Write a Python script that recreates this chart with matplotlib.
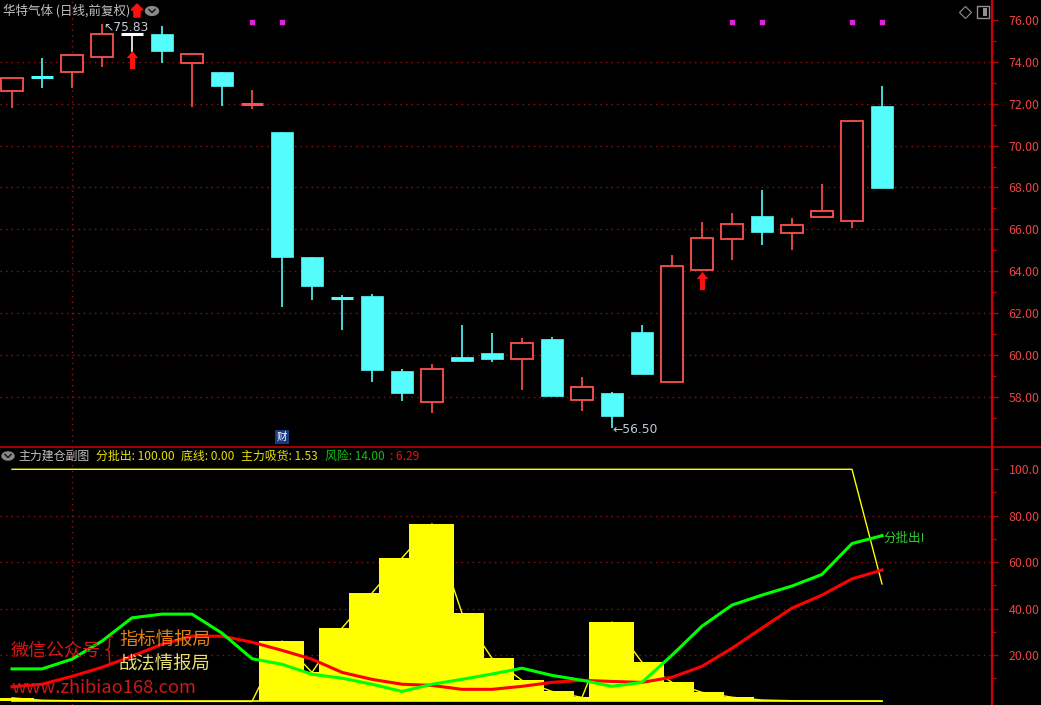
import numpy as np
import matplotlib.pyplot as plt
from matplotlib.patches import Rectangle, Circle, Polygon
from matplotlib.lines import Line2D
from matplotlib.path import Path
from matplotlib.transforms import blended_transform_factory

plt.rcParams['font.family'] = ['Noto Sans CJK SC', 'DejaVu Sans']

W, H = 1041, 705

# K线数据 (开, 高, 低, 收)
opens = [72.62, 73.30, 73.53, 74.22, 75.32, 75.33, 73.96, 73.50, 71.98, 70.65,
         64.68, 62.73, 62.81, 59.23, 57.75, 59.90, 60.09, 59.80, 60.76, 57.85,
         58.18, 61.09, 58.71, 64.06, 65.54, 66.64, 65.82, 66.59, 66.40, 71.89]
highs = [73.23, 74.17, 74.33, 75.83, 75.32, 75.71, 74.36, 73.50, 72.66, 70.65,
         64.68, 62.86, 62.91, 59.33, 59.56, 61.43, 61.05, 60.81, 60.86, 58.94,
         58.23, 61.43, 64.77, 66.35, 66.78, 67.88, 66.54, 68.17, 71.17, 72.85]
lows = [71.80, 72.74, 72.74, 73.77, 74.47, 73.93, 71.86, 71.91, 71.73, 62.29,
        62.62, 61.19, 58.71, 57.80, 57.22, 59.66, 59.66, 58.32, 58.03, 57.32,
        56.50, 59.09, 58.71, 64.06, 64.53, 65.25, 65.01, 66.59, 66.06, 67.97]
closes = [73.23, 73.28, 74.33, 75.33, 75.32, 74.53, 74.36, 72.86, 71.99, 64.68,
          63.29, 62.70, 59.28, 58.18, 59.33, 59.71, 59.80, 60.57, 58.03, 58.47,
          57.08, 59.09, 64.25, 65.59, 66.25, 65.87, 66.21, 66.88, 71.17, 67.97]

# 副图数据
fenpi = [100.0] * 29 + [50.6]
dixian = [0.0] * 30
xihuo = [1.53, 0.5, 0.3, 0, 0, 0, 0, 0, 0, 26.0,
         12.5, 31.6, 46.7, 61.8, 76.5, 38.0, 18.6, 9.1, 4.3, 1.7,
         34.2, 16.9, 8.2, 3.9, 1.8, 0.6, 0.3, 0.1, 0.1, 0.05]
fengxian = [14.0, 14.0, 18.2, 26.0, 36.0, 37.6, 37.6, 29.4, 18.4, 16.0,
            11.7, 10.0, 7.4, 4.3, 7.4, 9.5, 11.8, 14.3, 11.2, 9.1,
            6.5, 8.2, 19.9, 32.4, 41.5, 45.8, 49.7, 54.7, 68.0, 71.4]
zhuli = [6.29, 7.4, 10.8, 14.7, 19.5, 24.6, 28.1, 28.1, 25.5, 22.0,
         18.2, 12.5, 9.5, 7.4, 6.9, 5.2, 5.2, 6.5, 8.2, 9.1,
         8.6, 8.2, 10.4, 15.1, 22.9, 31.6, 40.2, 45.8, 52.8, 56.6]

up_arrows = [4, 23]
arrow_pos = [74.11, 63.51]
pink_marks = [8, 9, 24, 25, 28, 29]

price_ticks = np.arange(58, 77, 2)
sub_ticks = [20, 40, 60, 80, 100]
sub_labels = ['20.00', '40.00', '60.00', '80.00', '100.0']

RED = '#ff5050'
CYAN = '#54fcfc'
AXRED = '#e84444'
GRID = '#9a1010'

fig = plt.figure(figsize=(W / 100, H / 100), dpi=100, facecolor='black')
ax = fig.add_axes([0, 1 - 447 / H, 992 / W, 447 / H], facecolor='black')
ax2 = fig.add_axes([0, 0, 992 / W, 258 / H], facecolor='black')

x = np.arange(len(opens))
for a in (ax, ax2):
    a.set_xlim(-0.4, 32.667)
    for s in ('top', 'bottom', 'left'):
        a.spines[s].set_visible(False)
    a.spines['right'].set_color('#d00000')
    a.spines['right'].set_linewidth(1.6)
    a.yaxis.tick_right()
    a.set_xticks([])
    a.tick_params(axis='y', which='major', colors='#c00000', labelcolor=AXRED,
                  labelsize=8.9, length=4, width=1, pad=8)
    a.tick_params(axis='y', which='minor', colors='#c00000', length=3, width=1)
    a.axvline(2, color=GRID, lw=1, ls=(0, (1, 3)))

ax.set_ylim(55.60, 76.956)
ax.set_yticks(price_ticks)
ax.set_yticklabels(['%.2f' % v for v in price_ticks])
ax.set_yticks(np.arange(57, 77, 2), minor=True)
for v in price_ticks[:-1]:
    ax.axhline(v, color=GRID, lw=1, ls=(0, (1, 3)))

# 画K线
bw = 0.74
for i in x:
    o, h, l, c = opens[i], highs[i], lows[i], closes[i]
    if c > o:
        col = RED
    elif c < o:
        col = CYAN
    else:
        col = 'white'
    ax.vlines(i, l, h, color=col, lw=1.2, zorder=2)
    lo, hi = min(o, c), max(o, c)
    if hi - lo < 0.12:
        ax.hlines((o + c) / 2, i - bw / 2, i + bw / 2, color=col, lw=2.2, zorder=3)
    elif col == RED:
        ax.add_patch(Rectangle((i - bw / 2, lo), bw, hi - lo, facecolor='black',
                               edgecolor=col, lw=1.3, zorder=3))
    else:
        ax.add_patch(Rectangle((i - bw / 2, lo), bw, hi - lo, facecolor=col,
                               edgecolor=col, lw=0.5, zorder=3))

# 向上箭头
arrow_marker = Path([(0, 1), (0.6, 0.25), (0.26, 0.25), (0.26, -0.9), (-0.26, -0.9),
                     (-0.26, 0.25), (-0.6, 0.25), (0, 1)])
ax.scatter(up_arrows, arrow_pos, marker=arrow_marker, s=190, color='#ff1010',
           linewidths=0, zorder=4)

trans = blended_transform_factory(ax.transData, ax.transAxes)
ax.scatter(pink_marks, [1 - 22 / 447] * len(pink_marks), marker='s', s=7,
           color='#e020e0', transform=trans, zorder=4)

imax = int(np.argmax(highs))
imin = int(np.argmin(lows))
ax.annotate('↖%.2f' % highs[imax], xy=(imax, highs[imax]), xytext=(1, 2),
            textcoords='offset points', ha='left', va='top', fontsize=8.8,
            color='#c0ccd8', family=['DejaVu Sans'])
ax.annotate('←%.2f' % lows[imin], xy=(imin, lows[imin]), xytext=(0, -1),
            textcoords='offset points', ha='left', va='center', fontsize=8.8,
            color='#c0ccd8', family=['DejaVu Sans'])

ax.text(9, 10 / 447, '财', transform=trans, ha='center', va='center', fontsize=7.5,
        color='white', bbox=dict(boxstyle='square,pad=0.15', facecolor='#1c3a80', edgecolor='none'))

# 副图
ax2.set_ylim(-1.55, 109.6)
ax2.set_yticks(sub_ticks)
ax2.set_yticklabels(sub_labels)
ax2.set_yticks([10, 30, 50, 70, 90], minor=True)
for v in sub_ticks[:-1]:
    ax2.axhline(v, color=GRID, lw=1, ls=(0, (1, 3)))

ax2.bar(x, xihuo, width=1.5, color='#ffff00', zorder=2)
ax2.plot(x, xihuo, color='#ffff00', lw=1, zorder=2)
ax2.plot(x, fenpi, color='#ffff00', lw=1, zorder=3)
ax2.plot(x, dixian, color='#ffff00', lw=1.2, zorder=3)
ax2.plot(x, zhuli, color='#ff0000', lw=2.2, zorder=4)
ax2.plot(x, fengxian, color='#00ff00', lw=2.2, zorder=5)
ax2.annotate('分批出!', xy=(29, fengxian[-1]), xytext=(1, -2), textcoords='offset points',
             ha='left', va='center', fontsize=9, color='#30d030')

# 分隔线
fig.add_artist(Line2D([0, 1], [1 - 447 / H, 1 - 447 / H], color='#c00000', lw=1.2))


def px(xp, yp):
    return xp / W, 1 - yp / H


# 标题
fig.text(*px(3, 11), '华特气体 (日线,前复权)', fontsize=9, color='#c0c0c0', va='center', ha='left')
fig.add_artist(Polygon([px(137, 4), px(143, 10), px(140, 10), px(140, 17), px(134, 17),
                        px(134, 10), px(131, 10)], closed=True, color='#ff1010'))
fig.add_artist(Circle(px(152, 11), 6.5 / W, color='#8a8a8a'))
fig.add_artist(Line2D([149 / W, 152 / W, 155 / W], [1 - 9.5 / H, 1 - 12.5 / H, 1 - 9.5 / H],
                      color='#202020', lw=1.2))
fig.add_artist(Line2D([965 / W], [1 - 12 / H], marker='D', markersize=6, mfc='none',
                      mec='#909090', mew=0.8))
fig.add_artist(Rectangle(px(977, 18), 12 / W, 12 / H, facecolor='none', edgecolor='#909090', lw=1))
fig.add_artist(Rectangle(px(983, 16), 4 / W, 8 / H, facecolor='#909090', edgecolor='none'))

# 副图标题
fig.add_artist(Circle(px(8, 456), 6 / W, color='#8a8a8a'))
fig.add_artist(Line2D([5 / W, 8 / W, 11 / W], [1 - 454.5 / H, 1 - 457.5 / H, 1 - 454.5 / H],
                      color='#202020', lw=1.2))
header = [('主力建仓副图', '#c0c0c0', 18), ('分批出: %.2f' % fenpi[0], '#e8e000', 96),
          ('底线: %.2f' % dixian[0], '#e8e000', 181), ('主力吸货: %.2f' % xihuo[0], '#e8e000', 241),
          ('风险: %.2f' % fengxian[0], '#10c010', 325), (': %.2f' % zhuli[0], '#ee1010', 390)]
for txt, col, xp in header:
    fig.text(*px(xp, 456), txt, fontsize=8.6, color=col, va='center', ha='left')

# 水印
fig.text(*px(11, 651), '微信公众号', fontsize=13, color='#d01818', va='center')
fig.text(*px(110, 650), '{', fontsize=22, color='#d01818', va='center', ha='center',
         family=['DejaVu Sans'], fontweight='light')
fig.text(*px(119, 640), '指标情报局', fontsize=13.2, color='#e08010', va='center')
fig.text(*px(119, 664), '战法情报局', fontsize=13.2, color='#e8e070', va='center')
fig.text(*px(11, 688), 'www.zhibiao168.com', fontsize=13.2, color='#d01818', va='center')

fig.savefig('out.png', dpi=100, facecolor='black')
